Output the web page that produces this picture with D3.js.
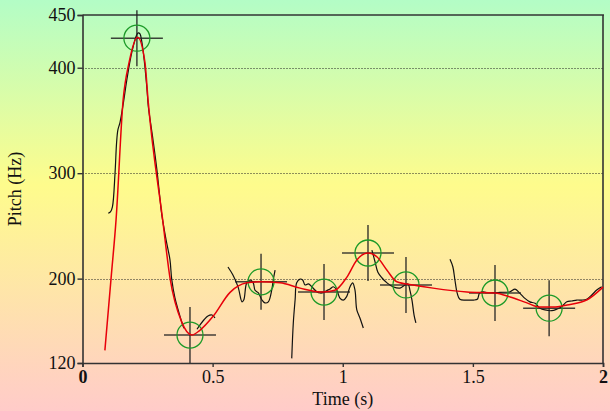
<!DOCTYPE html>
<html>
<head>
<meta charset="utf-8">
<script src="https://cdn.jsdelivr.net/npm/d3@7"></script>
<style>
body { margin: 0; }
svg text { font-family: "Liberation Serif", "Times New Roman", serif; }
</style>
</head>
<body>
<div class="chart"></div>
<script>
// tick values
var yTicks = [120, 200, 300, 400, 450];
var yGrid = [200, 300, 400];
var xTicks = [0, 0.5, 1, 1.5, 2];

// stylised (smoothed) contour, red
var smoothT = [0.086, 0.110, 0.129, 0.156, 0.179, 0.212, 0.240, 0.252, 0.308, 0.336, 0.381, 0.420, 0.451, 0.501, 0.567, 0.632, 0.682, 0.759, 0.836, 0.924, 0.970, 1.016, 1.055, 1.097, 1.132, 1.170, 1.208, 1.270, 1.347, 1.477, 1.585, 1.643, 1.708, 1.758, 1.808, 1.862, 1.939, 2.0];
var smoothF = [132, 201, 256, 369, 405, 429, 405, 369, 256, 201, 159, 146.5, 151, 164, 187, 196, 197, 196, 191, 187.3, 189, 201.5, 218, 224.3, 220.5, 208, 197, 194, 191, 187.3, 186.4, 182.6, 177, 173, 173, 175, 180, 192];

// raw pitch, black, one array per voiced stretch
var rawT = [
  [0.099, 0.108, 0.115, 0.125, 0.131, 0.136, 0.144, 0.157, 0.170, 0.189, 0.208, 0.214, 0.221, 0.227, 0.234, 0.247, 0.253, 0.259, 0.271, 0.285, 0.298, 0.305, 0.321, 0.336, 0.343, 0.355, 0.375, 0.385, 0.390],
  [0.440, 0.451, 0.467, 0.482, 0.498, 0.509],
  [0.559, 0.578, 0.598, 0.613, 0.620, 0.631, 0.644, 0.656, 0.663, 0.676, 0.689, 0.701, 0.714, 0.727, 0.733, 0.740],
  [0.804, 0.810, 0.817, 0.823, 0.836, 0.846, 0.855, 0.868, 0.881, 0.900, 0.913, 0.925, 0.938, 0.951, 0.964, 0.977, 0.989, 1.002, 1.015, 1.028, 1.038, 1.047, 1.054, 1.066, 1.079],
  [1.112, 1.124, 1.135, 1.151, 1.170, 1.193, 1.220, 1.239, 1.251, 1.258, 1.266, 1.274, 1.281],
  [1.412, 1.423, 1.431, 1.440, 1.450, 1.476, 1.502, 1.517, 1.525, 1.534, 1.553, 1.585, 1.604, 1.643, 1.662, 1.681, 1.700, 1.719, 1.739, 1.758, 1.777, 1.803, 1.822, 1.841, 1.861, 1.880, 1.899, 1.918, 1.937, 1.957, 1.976, 1.995]
];
var rawF = [
  [262, 263.5, 268, 300, 329, 341, 348, 366.5, 388, 414, 431, 433, 432, 426, 414, 382, 363, 352, 331.5, 305, 275, 260, 237, 218, 199, 182, 164, 156, 153],
  [152, 156, 161, 164.6, 165.5, 162.7],
  [211, 203.4, 192, 178, 180, 196, 198.7, 196, 189, 186.4, 180, 177, 178, 189, 198.7, 208],
  [124.4, 158, 180, 196, 199.6, 198.7, 194, 195, 192.3, 187.6, 186.4, 186.7, 188.6, 190.2, 192.3, 189.2, 181.6, 179.7, 183, 192.3, 196, 189.2, 170.3, 162.7, 153.2],
  [227, 216, 206, 200.6, 196, 192.3, 191, 194, 195, 189.2, 179.7, 165.5, 158],
  [218.3, 211.3, 198.7, 186, 180.4, 179.7, 179.7, 180.4, 186, 187.6, 186.7, 186.7, 187, 187.6, 190, 186, 181.3, 178, 176.6, 172, 170.3, 169.6, 171, 173.4, 178, 178.8, 179.7, 179.7, 180.4, 184.5, 189.2, 192.3]
];

// target points, circled
var targetT = [0.209, 0.413, 0.686, 0.928, 1.097, 1.243, 1.585, 1.793];
var targetF = [428, 146.5, 197, 187.3, 224.3, 194, 186.4, 172];

var W = 610, H = 411;
var padL = 82.5, padR = 603, padT = 15, padB = 363;

var svg = d3.select(".chart").append("svg")
    .attr("width", W)
    .attr("height", H);

var grad = svg.append("defs").append("linearGradient")
    .attr("id", "bg")
    .attr("x1", 0).attr("y1", 0).attr("x2", 0).attr("y2", 1);
grad.append("stop").attr("offset", "0%").attr("stop-color", "#b3fdc6");
grad.append("stop").attr("offset", "45%").attr("stop-color", "#fefc8c");
grad.append("stop").attr("offset", "100%").attr("stop-color", "#ffcbc9");

svg.append("rect")
    .attr("width", W)
    .attr("height", H)
    .attr("fill", "url(#bg)");

var x = d3.scaleLinear().domain([0, 2]).range([padL, padR]);
var y = d3.scaleLinear().domain([120, 450]).range([padB, padT]);

// dotted grid
svg.selectAll(".grid")
    .data(yGrid)
    .enter()
    .append("line")
    .attr("class", "grid")
    .attr("x1", padL)
    .attr("x2", padR)
    .attr("y1", d => Math.round(y(d)) + 0.5)
    .attr("y2", d => Math.round(y(d)) + 0.5)
    .attr("stroke", "#222")
    .attr("stroke-width", 1)
    .attr("stroke-dasharray", "1,2");

// frame top and right
svg.append("line")
    .attr("x1", padL).attr("x2", padR + 1)
    .attr("y1", padT).attr("y2", padT)
    .attr("stroke", "#333").attr("stroke-width", 1.6);
svg.append("line")
    .attr("x1", padR).attr("x2", padR)
    .attr("y1", padT).attr("y2", padB)
    .attr("stroke", "#333").attr("stroke-width", 1.6);

var yAxis = svg.append("g")
    .attr("transform", `translate(${padL},0)`)
    .call(d3.axisLeft(y).tickValues(yTicks).tickSize(5).tickPadding(2).tickFormat(d3.format("d")));
var xAxis = svg.append("g")
    .attr("transform", `translate(0,${padB})`)
    .call(d3.axisBottom(x).tickValues(xTicks).tickSize(4).tickPadding(3).tickFormat(d => d));

[yAxis, xAxis].forEach(function(g) {
    g.select(".domain").attr("stroke", "#333").attr("stroke-width", 1.6);
    g.selectAll(".tick line").attr("stroke", "#333").attr("stroke-width", 1.4);
    g.selectAll("text")
        .attr("fill", "#111")
        .style("font-size", "18px")
        .style("font-family", "Liberation Serif, serif");
});
xAxis.selectAll(".tick text")
    .attr("font-weight", (d, i) => (i == 0 || i == xTicks.length - 1) ? "bold" : "normal");

// axis titles
svg.append("text")
    .attr("x", x(1))
    .attr("y", 405)
    .attr("text-anchor", "middle")
    .style("font-size", "18px")
    .attr("fill", "#111")
    .text("Time (s)");
svg.append("text")
    .attr("transform", `translate(21,${(padT + padB) / 2}) rotate(-90)`)
    .attr("text-anchor", "middle")
    .style("font-size", "18px")
    .attr("fill", "#111")
    .text("Pitch (Hz)");

var line = d3.line()
    .x(d => x(d[0]))
    .y(d => y(d[1]));

// raw pitch
rawT.forEach(function(ts, k) {
    var pts = ts.map((t, i) => [t, rawF[k][i]]);
    svg.append("path")
        .datum(pts)
        .attr("d", line.curve(d3.curveCatmullRom))
        .attr("fill", "none")
        .attr("stroke", "#111")
        .attr("stroke-width", 1.2);
});

// target markers
var targets = targetT.map((t, i) => [t, targetF[i]]);
var mk = svg.selectAll(".target")
    .data(targets)
    .enter()
    .append("g")
    .attr("class", "target")
    .attr("transform", d => `translate(${x(d[0])},${y(d[1])})`);
mk.append("line")
    .attr("x1", -26).attr("x2", 26)
    .attr("y1", 0).attr("y2", 0)
    .attr("stroke", "#222").attr("stroke-opacity", 0.85).attr("stroke-width", 1.5);
mk.append("line")
    .attr("x1", 0).attr("x2", 0)
    .attr("y1", -28).attr("y2", 28)
    .attr("stroke", "#222").attr("stroke-opacity", 0.85).attr("stroke-width", 1.5);

// smoothed contour
var smooth = smoothT.map((t, i) => [t, smoothF[i]]);
svg.append("path")
    .datum(smooth)
    .attr("d", line.curve(d3.curveMonotoneX))
    .attr("fill", "none")
    .attr("stroke", "#e8000a")
    .attr("stroke-width", 1.5);

mk.append("circle")
    .attr("r", 13)
    .attr("fill", "none")
    .attr("stroke", "#1c9a28")
    .attr("stroke-width", 1.3);
</script>
</body>
</html>
